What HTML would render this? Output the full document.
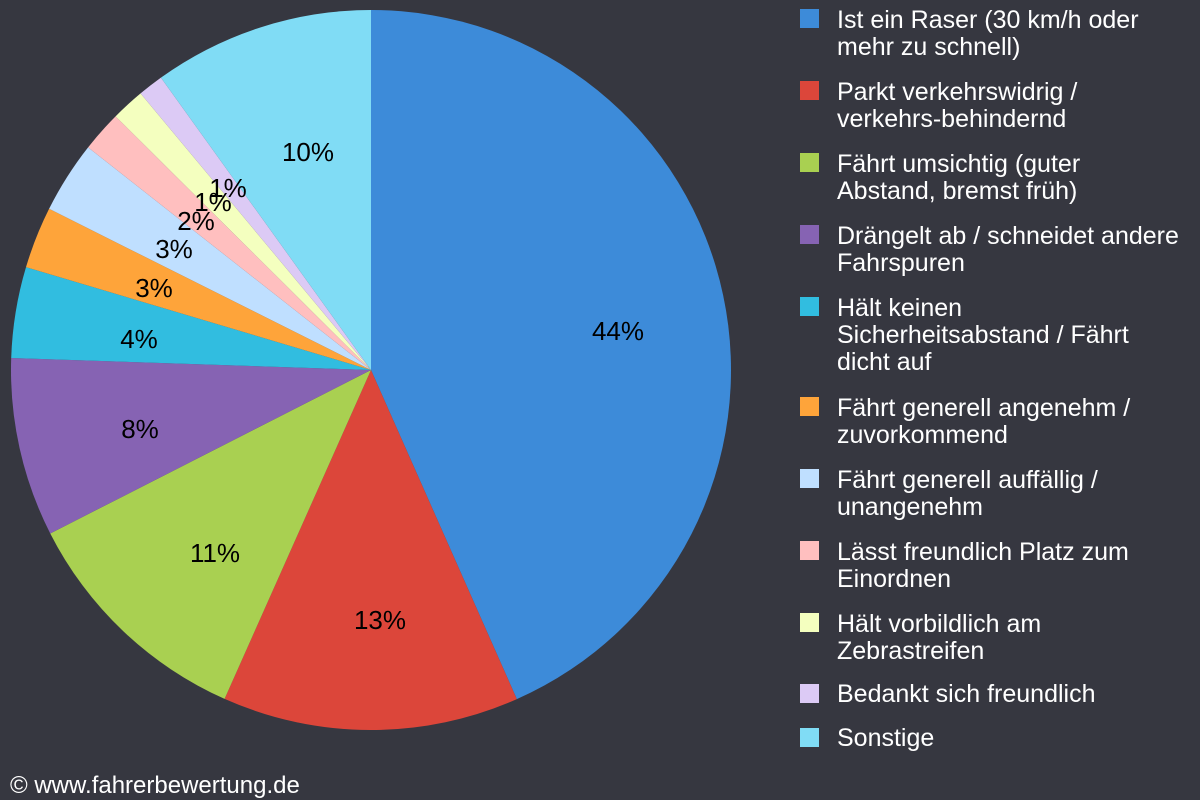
<!DOCTYPE html>
<html><head><meta charset="utf-8"><style>
body{margin:0;background:#363740;}
svg{display:block}
text{font-family:"Liberation Sans",sans-serif;}
</style></head><body>
<svg width="1200" height="800" viewBox="0 0 1200 800">
<rect width="1200" height="800" fill="#363740"/>
<g id="pie"></g>
<g font-size="26" fill="#000" text-anchor="middle">
<text x="618" y="340">44%</text>
<text x="380" y="629">13%</text>
<text x="215" y="562">11%</text>
<text x="140" y="438">8%</text>
<text x="139" y="348">4%</text>
<text x="154" y="297">3%</text>
<text x="174" y="258">3%</text>
<text x="196" y="230">2%</text>
<text x="213" y="211">1%</text>
<text x="228" y="197">1%</text>
<text x="308" y="161">10%</text>
</g>
<g font-size="25" fill="#fff">
<rect x="800" y="9" width="19" height="19" fill="#3d8bd9"/><text x="837" y="28">Ist ein Raser (30 km/h oder</text><text x="837" y="55">mehr zu schnell)</text>
<rect x="800" y="81" width="19" height="19" fill="#dc463a"/><text x="837" y="100">Parkt verkehrswidrig /</text><text x="837" y="127">verkehrs-behindernd</text>
<rect x="800" y="153" width="19" height="19" fill="#a9d051"/><text x="837" y="172">Fährt umsichtig (guter</text><text x="837" y="199">Abstand, bremst früh)</text>
<rect x="800" y="225" width="19" height="19" fill="#8663b3"/><text x="837" y="244">Drängelt ab / schneidet andere</text><text x="837" y="271">Fahrspuren</text>
<rect x="800" y="297" width="19" height="19" fill="#31bde0"/><text x="837" y="316">Hält keinen</text><text x="837" y="343">Sicherheitsabstand / Fährt</text><text x="837" y="370">dicht auf</text>
<rect x="800" y="397" width="19" height="19" fill="#fea43a"/><text x="837" y="416">Fährt generell angenehm /</text><text x="837" y="443">zuvorkommend</text>
<rect x="800" y="469" width="19" height="19" fill="#bfdfff"/><text x="837" y="488">Fährt generell auffällig /</text><text x="837" y="515">unangenehm</text>
<rect x="800" y="541" width="19" height="19" fill="#ffbfbf"/><text x="837" y="560">Lässt freundlich Platz zum</text><text x="837" y="587">Einordnen</text>
<rect x="800" y="613" width="19" height="19" fill="#f4ffbf"/><text x="837" y="632">Hält vorbildlich am</text><text x="837" y="659">Zebrastreifen</text>
<rect x="800" y="684" width="19" height="19" fill="#dccaf5"/><text x="837" y="702">Bedankt sich freundlich</text>
<rect x="800" y="728" width="19" height="19" fill="#80dcf5"/><text x="837" y="746">Sonstige</text>
</g>
<text x="10" y="793" font-size="24" fill="#fff">© www.fahrerbewertung.de</text>
</svg>
<script>
var cx=371,cy=370,r=360;
var ends=[156.1,204,243,271.9,286.6,296.6,308.2,314.8,320.2,324.3,360];
var cols=["#3d8bd9","#dc463a","#a9d051","#8663b3","#31bde0","#fea43a","#bfdfff","#ffbfbf","#f4ffbf","#dccaf5","#80dcf5"];
var g=document.getElementById("pie"),s=0,h="";
function pt(a){a=a*Math.PI/180;return (cx+r*Math.sin(a)).toFixed(2)+","+(cy-r*Math.cos(a)).toFixed(2);}
for(var i=0;i<ends.length;i++){var e=ends[i];h+='<path d="M'+cx+','+cy+' L'+pt(s)+' A'+r+','+r+' 0 '+((e-s)>180?1:0)+' 1 '+pt(e)+' Z" fill="'+cols[i]+'"/>';s=e;}
g.innerHTML=h;
</script>
</body></html>
